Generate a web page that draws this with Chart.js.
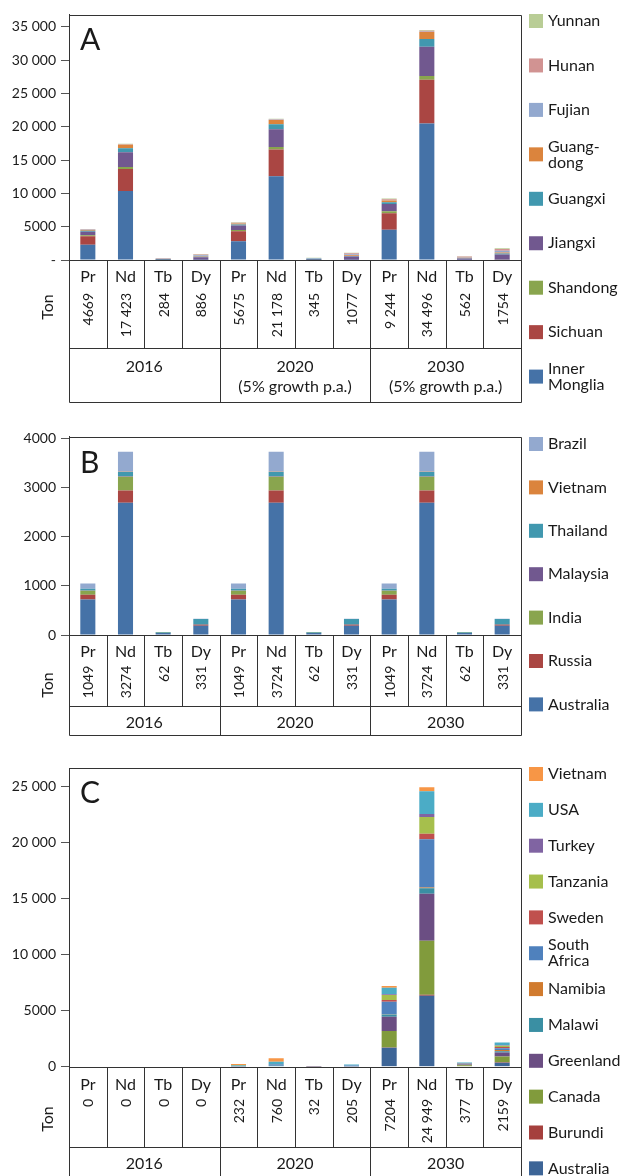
<!DOCTYPE html>
<html>
<head>
  <title>Rare earth demand by source</title>
  <script src="https://cdn.jsdelivr.net/npm/chart.js"></script>
  <style>
    body { margin: 0; background: #fff; }
    .panel { position: relative; width: 628px; }
  </style>
</head>
<body>
  <div class="panel" style="height:410px"><canvas id="chartA"></canvas></div>
  <div class="panel" style="height:335px"><canvas id="chartB"></canvas></div>
  <div class="panel" style="height:431px"><canvas id="chartC"></canvas></div>

<script>
const FONT = 'Lato, "Open Sans", sans-serif';

const elements = ['Pr', 'Nd', 'Tb', 'Dy', 'Pr', 'Nd', 'Tb', 'Dy', 'Pr', 'Nd', 'Tb', 'Dy'];

// Panel A - China, by province
const totalsA = ['4669', '17 423', '284', '886', '5675', '21 178', '345', '1077', '9 244', '34 496', '562', '1754'];
const groupsA = [['2016'], ['2020', '(5% growth p.a.)'], ['2030', '(5% growth p.a.)']];
const yTicksA = ['-', '5000', '10 000', '15 000', '20 000', '25 000', '30 000', '35 000'];
const innerMonglia = [2300, 10350, 10, 20, 2796, 12580, 12, 24, 4554, 20492, 20, 40];
const sichuan      = [1250, 3300, 5, 10, 1519, 4011, 6, 12, 2475, 6534, 10, 20];
const shandong     = [150, 300, 5, 10, 182, 365, 6, 12, 297, 594, 10, 20];
const jiangxi      = [550, 2200, 101, 384, 669, 2674, 123, 467, 1089, 4356, 200, 760];
const guangxi      = [120, 600, 20, 76, 146, 729, 24, 92, 238, 1188, 40, 150];
const guangdong    = [130, 530, 25, 76, 158, 644, 30, 92, 257, 1049, 50, 150];
const fujian       = [30, 20, 40, 126, 36, 24, 49, 153, 59, 40, 80, 250];
const hunan        = [80, 70, 51, 126, 97, 85, 62, 153, 158, 139, 100, 250];
const yunnan       = [59, 53, 27, 58, 72, 66, 33, 72, 117, 104, 52, 114];

// Panel B - rest of world, existing
const totalsB = ['1049', '3274', '62', '331', '1049', '3724', '62', '331', '1049', '3724', '62', '331'];
const groupsB = [['2016'], ['2020'], ['2030']];
const yTicksB = ['0', '1000', '2000', '3000', '4000'];
const australiaB = [720, 2690, 40, 190, 720, 2690, 40, 190, 720, 2690, 40, 190];
const russiaB    = [100, 245, 3, 15, 100, 245, 3, 15, 100, 245, 3, 15];
const indiaB     = [80, 280, 2, 5, 80, 280, 2, 5, 80, 280, 2, 5];
const malaysiaB  = [5, 10, 2, 15, 5, 10, 2, 15, 5, 10, 2, 15];
const thailandB  = [35, 90, 12, 100, 35, 90, 12, 100, 35, 90, 12, 100];
const vietnamB   = [2, 5, 0, 0, 2, 5, 0, 0, 2, 5, 0, 0];
const brazilB    = [107, 404, 3, 6, 107, 404, 3, 6, 107, 404, 3, 6];

// Panel C - new projects
const totalsC = ['0', '0', '0', '0', '232', '760', '32', '205', '7204', '24 949', '377', '2159'];
const groupsC = [['2016'], ['2020'], ['2030']];
const yTicksC = ['0', '5000', '10 000', '15 000', '20 000', '25 000'];
const australiaC   = [0, 0, 0, 0, 0, 0, 0, 0, 1700, 6340, 40, 360];
const burundiC     = [0, 0, 0, 0, 0, 0, 0, 0, 20, 90, 10, 30];
const canadaC      = [0, 0, 0, 0, 0, 0, 0, 0, 1465, 4820, 80, 520];
const greenlandC   = [0, 0, 0, 0, 10, 30, 5, 20, 1280, 4200, 60, 350];
const malawiC      = [0, 0, 0, 0, 20, 60, 5, 25, 190, 480, 30, 110];
const namibiaC     = [0, 0, 0, 0, 0, 0, 0, 0, 20, 60, 10, 120];
const southAfricaC = [0, 0, 0, 0, 40, 120, 0, 70, 1130, 4310, 60, 150];
const swedenC      = [0, 0, 0, 0, 2, 10, 0, 0, 150, 500, 10, 120];
const tanzaniaC    = [0, 0, 0, 0, 10, 10, 0, 0, 445, 1490, 20, 110];
const turkeyC      = [0, 0, 0, 0, 0, 0, 0, 0, 60, 270, 7, 40];
const usaC         = [0, 0, 0, 0, 60, 210, 10, 80, 595, 2020, 40, 249];
const vietnamC     = [0, 0, 0, 0, 90, 320, 12, 10, 149, 369, 10, 0];

function ds(label, data, color) {
  return { label, data, backgroundColor: color, borderWidth: 0,
           barPercentage: 0.4, categoryPercentage: 1.0 };
}

// draws the frame, the table under the bars, the panel letter and the legend
const panelTable = {
  id: 'panelTable',
  afterDraw(chart, args, o) {
    const { ctx, chartArea: a } = chart;
    const x = chart.scales.x;
    const n = elements.length;
    const edge = i => i === 0 ? a.left : i === n ? a.right : (x.getPixelForValue(i - 1) + x.getPixelForValue(i)) / 2;
    const px = v => Math.round(v) + 0.5;

    ctx.save();
    ctx.strokeStyle = '#333';
    ctx.lineWidth = 1;
    ctx.beginPath();
    ctx.moveTo(px(a.left), px(a.top)); ctx.lineTo(px(a.right), px(a.top));
    ctx.moveTo(px(a.left), px(a.top)); ctx.lineTo(px(a.left), px(o.bottom));
    ctx.moveTo(px(a.right), px(a.top)); ctx.lineTo(px(a.right), px(o.bottom));
    [a.bottom, o.rowLine, o.bottom].forEach(y => {
      ctx.moveTo(px(a.left), px(y)); ctx.lineTo(px(a.right), px(y));
    });
    for (let i = 1; i < n; i++) {
      const xx = px(edge(i));
      ctx.moveTo(xx, px(a.bottom));
      ctx.lineTo(xx, px(i % 4 === 0 ? o.bottom : o.rowLine));
    }
    ctx.stroke();

    ctx.fillStyle = '#1a1a1a';
    ctx.textAlign = 'center';
    ctx.textBaseline = 'middle';
    ctx.font = '16px ' + FONT;
    elements.forEach((e, i) => ctx.fillText(e, (edge(i) + edge(i + 1)) / 2, o.nameY));

    ctx.font = '14px ' + FONT;
    o.totals.forEach((t, i) => {
      ctx.save();
      ctx.translate((edge(i) + edge(i + 1)) / 2 + 1, o.numTop);
      ctx.rotate(-Math.PI / 2);
      ctx.textAlign = 'right';
      ctx.fillText(t, 0, 0);
      ctx.restore();
    });

    ctx.font = '16px ' + FONT;
    o.groups.forEach((g, gi) => {
      const cx = (edge(gi * 4) + edge(gi * 4 + 4)) / 2;
      ctx.fillText(g[0], cx, o.groupY);
      if (g[1]) ctx.fillText(g[1], cx, o.subY);
    });

    ctx.save();
    ctx.translate(47.5, o.tonY);
    ctx.rotate(-Math.PI / 2);
    ctx.textAlign = 'center';
    ctx.fillText('Ton', 0, 0);
    ctx.restore();

    ctx.font = '30px ' + FONT;
    ctx.textAlign = 'left';
    ctx.textBaseline = 'alphabetic';
    ctx.fillText(o.letter, 80, o.letterY);

    // legend, last series on top
    ctx.font = '16px ' + FONT;
    ctx.textBaseline = 'middle';
    chart.data.datasets.slice().reverse().forEach((d, i) => {
      const cy = o.legendTop + i * o.legendStep;
      ctx.fillStyle = d.backgroundColor;
      ctx.fillRect(529, cy - 7, 14, 14);
      ctx.fillStyle = '#1a1a1a';
      const lines = d.label.split('\n');
      lines.forEach((l, li) => ctx.fillText(l, 548, cy + (li - (lines.length - 1) / 2) * 16));
    });
    ctx.restore();
  }
};

function makeChart(id, datasets, max, step, tickLabels, pad, table) {
  new Chart(document.getElementById(id), {
    type: 'bar',
    data: { labels: elements, datasets },
    options: {
      responsive: true,
      maintainAspectRatio: false,
      animation: false,
      layout: { padding: { left: 0, right: 107, top: pad.top, bottom: pad.bottom } },
      plugins: { legend: { display: false }, tooltip: { enabled: false }, panelTable: table },
      scales: {
        x: { stacked: true, display: false },
        y: {
          stacked: true,
          bounds: 'data',
          min: 0,
          max: max,
          afterFit(scale) { scale.width = 69; },
          // one tick per label, at multiples of the step
          afterBuildTicks(scale) { scale.ticks = tickLabels.map((t, i) => ({ value: i * step })); },
          grid: { drawOnChartArea: false, drawTicks: true, tickLength: 8, color: '#555' },
          border: { display: true, color: '#333' },
          ticks: {
            padding: 5,
            color: '#1a1a1a',
            font: { family: FONT, size: 14 },
            callback: v => tickLabels[Math.round(v / step)]
          }
        }
      }
    },
    plugins: [panelTable]
  });
}

makeChart('chartA', [
  ds('Inner\nMonglia', innerMonglia, '#4572A7'),
  ds('Sichuan', sichuan, '#AA4643'),
  ds('Shandong', shandong, '#89A54E'),
  ds('Jiangxi', jiangxi, '#71588F'),
  ds('Guangxi', guangxi, '#4198AF'),
  ds('Guang-\ndong', guangdong, '#DB843D'),
  ds('Fujian', fujian, '#93A9CF'),
  ds('Hunan', hunan, '#D19392'),
  ds('Yunnan', yunnan, '#B9CD96')
], 36800, 5000, yTicksA, { top: 14.7, bottom: 150 }, {
  letter: 'A', letterY: 50, totals: totalsA, groups: groupsA,
  nameY: 277, numTop: 293, rowLine: 348, groupY: 366.7, subY: 386.7, bottom: 402,
  tonY: 307, legendTop: 21, legendStep: 44.45
});

makeChart('chartB', [
  ds('Australia', australiaB, '#4572A7'),
  ds('Russia', russiaB, '#AA4643'),
  ds('India', indiaB, '#89A54E'),
  ds('Malaysia', malaysiaB, '#71588F'),
  ds('Thailand', thailandB, '#4198AF'),
  ds('Vietnam', vietnamB, '#DB843D'),
  ds('Brazil', brazilB, '#93A9CF')
], 4030, 1000, yTicksB, { top: 26.7, bottom: 110 }, {
  letter: 'B', letterY: 63, totals: totalsB, groups: groupsB,
  nameY: 241.7, numTop: 255.7, rowLine: 295.7, groupY: 313, subY: 0, bottom: 325,
  tonY: 275, legendTop: 34, legendStep: 43.4
});

makeChart('chartC', [
  ds('Australia', australiaC, '#3D6597'),
  ds('Burundi', burundiC, '#A5403D'),
  ds('Canada', canadaC, '#819B3C'),
  ds('Greenland', greenlandC, '#6B4E83'),
  ds('Malawi', malawiC, '#3A8FA3'),
  ds('Namibia', namibiaC, '#D17B2E'),
  ds('South\nAfrica', southAfricaC, '#4F81BD'),
  ds('Sweden', swedenC, '#C0504D'),
  ds('Tanzania', tanzaniaC, '#A6BF4C'),
  ds('Turkey', turkeyC, '#8064A2'),
  ds('USA', usaC, '#4BACC6'),
  ds('Vietnam', vietnamC, '#F79646')
], 26640, 5000, yTicksC, { top: 23.3, bottom: 109.3 }, {
  letter: 'C', letterY: 58, totals: totalsC, groups: groupsC,
  nameY: 340, numTop: 354, rowLine: 402.3, groupY: 419, subY: 0, bottom: 445,
  tonY: 374, legendTop: 29, legendStep: 35.85
});
</script>
</body>
</html>
